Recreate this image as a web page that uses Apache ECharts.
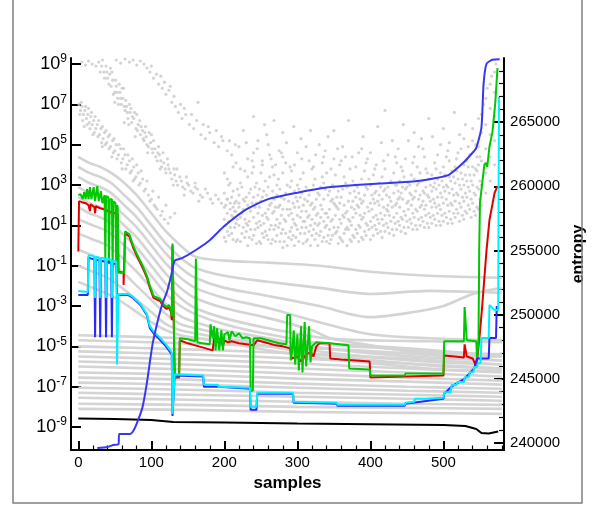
<!DOCTYPE html>
<html><head><meta charset="utf-8">
<script src="https://cdn.jsdelivr.net/npm/echarts@6/dist/echarts.min.js"></script>
<style>html,body{margin:0;padding:0;background:#fff}#c{width:595px;height:506px}</style>
</head><body><div id="c"></div>
<script>
// ---- data (x = sample, left-axis values are log10 exponents) ----
const xTicks = [0,100,200,300,400,500];
const xMinor = [20,40,60,80,120,140,160,180,220,240,260,280,320,340,360,380,420,440,460,480,520,540,560,580];
const yLogTicks = [-9,-7,-5,-3,-1,1,3,5,7,9];
const entTicks = [240000,245000,250000,255000,260000,265000];
const entMinor = [241000,242000,243000,244000,246000,247000,248000,249000,251000,252000,253000,254000,256000,257000,258000,259000,261000,262000,263000,264000,266000,267000,268000,269000];

const entropy = [[26,239610],[40,239690],[48,239840],[55,239900],[56,240700],[71,240700],[76,241000],[82,241790],[88,242800],[94,244700],[98,246300],[102,247800],[110,249800],[116,251000],[121,251700],[127,253000],[132,254200],[142,254400],[160,255000],[180,255800],[200,256900],[230,258200],[260,259000],[300,259500],[340,259900],[380,260100],[413,260220],[458,260370],[490,260650],[508,260920],[526,261770],[538,262500],[545,263000],[552,264570],[555,268000],[559,269550],[567,269860],[577,269900]];

const blackLog = [[0,-8.58],[50,-8.6],[100,-8.65],[130,-8.75],[200,-8.78],[300,-8.83],[400,-8.86],[500,-8.9],[530,-8.95],[545,-9.1],[552,-9.3],[562,-9.32],[575,-9.22]];

const redLog = [[0,-0.3],[1,2.2],[5,2.15],[10,2.1],[14,2.0],[16,1.7],[17,2.05],[22,1.9],[23,1.6],[24,1.95],[30,1.85],[35,1.8],[38,1.75],[45,1.65],[50,1.6],[54,1.55],[55,-1.3],[62,-1.35],[62,-1.95],[63,-1.95],[64,0.6],[70,0.45],[75,-0.1],[80,-0.5],[88,-1.1],[94,-1.6],[98,-2.1],[103,-2.6],[112,-2.75],[116,-3.0],[121,-3.15],[124,-3.05],[127,-3.3],[128,-3.7],[129,0.0],[131,0.0],[132,-6.55],[138,-6.55],[139,-4.7],[150,-4.85],[160,-4.95],[170,-5.05],[184,-5.2],[186,-4.6],[190,-4.8],[195,-4.6],[198,-5.0],[200,-4.7],[205,-4.8],[210,-4.75],[220,-4.85],[230,-4.9],[240,-4.95],[245,-4.7],[250,-4.75],[260,-4.85],[270,-4.95],[280,-5.0],[290,-5.1],[292,-5.6],[300,-5.5],[305,-5.75],[312,-5.4],[318,-5.3],[322,-5.5],[326,-5.0],[330,-4.85],[344,-4.85],[345,-5.6],[360,-5.65],[380,-5.7],[399,-5.75],[400,-6.55],[447,-6.5],[500,-6.45],[501,-5.45],[515,-5.5],[528,-5.55],[529,-4.9],[531,-4.9],[532,-5.5],[540,-5.6],[545,-6.0],[549,-4.7],[553,-3.05],[559,-0.23],[563,1.26],[570,2.6],[574,2.95]];

const greenLog = [[0,2.5],[3,2.55],[6,2.3],[8,2.65],[10,2.3],[12,2.8],[14,2.3],[16,2.9],[18,2.3],[21,2.9],[23,2.2],[26,2.95],[28,2.2],[31,2.7],[33,2.1],[36,2.5],[37,-0.7],[38,2.45],[41,2.4],[42,-0.9],[43,2.3],[46,2.3],[47,-1.1],[48,2.2],[51,2.1],[52,-1.3],[53,2.0],[54,1.9],[55,-1.35],[63,-1.35],[64,0.7],[70,0.55],[75,0.0],[80,-0.4],[88,-1.0],[94,-1.5],[98,-2.0],[103,-2.5],[112,-2.65],[116,-2.9],[121,-3.05],[124,-2.95],[127,-3.2],[128,-3.5],[129,0.1],[131,0.1],[132,-6.5],[138,-6.5],[139,-4.6],[150,-4.65],[160,-4.75],[161,-0.65],[162,-0.65],[163,-4.8],[170,-4.85],[180,-4.9],[181,-3.9],[183,-3.9],[184,-4.6],[186,-4.0],[188,-5.2],[190,-4.1],[193,-5.2],[196,-4.2],[198,-5.2],[200,-4.4],[205,-4.3],[207,-4.7],[210,-4.25],[215,-4.5],[220,-4.35],[225,-4.6],[230,-4.55],[235,-4.6],[236,-7.2],[239,-7.2],[240,-4.6],[250,-4.6],[260,-4.7],[275,-4.85],[285,-4.9],[286,-3.45],[290,-3.45],[291,-5.7],[293,-5.2],[295,-4.2],[297,-5.9],[300,-4.4],[302,-6.2],[305,-4.0],[307,-6.3],[310,-3.8],[312,-6.0],[316,-4.0],[318,-5.8],[320,-5.0],[326,-4.8],[344,-4.85],[370,-4.95],[371,-6.1],[399,-6.15],[400,-6.45],[447,-6.45],[448,-6.35],[500,-6.35],[501,-4.75],[528,-4.75],[529,-3.05],[531,-3.05],[532,-4.7],[545,-4.75],[546,-5.6],[547,-5.6],[548,-4.8],[549,-0.2],[550,2.1],[552,2.1],[556,4.0],[558,4.1],[560,3.9],[563,4.9],[567,5.6],[571,7.06],[574,8.8]];

const cyanLog = [[0,-2.25],[13,-2.3],[14,-0.5],[20,-0.5],[22,-0.6],[23,-2.6],[24,-0.55],[29,-0.6],[30,-2.6],[31,-0.6],[37,-0.65],[38,-2.6],[39,-0.65],[45,-0.7],[46,-2.6],[47,-0.75],[52,-0.8],[53,-5.9],[54,-5.9],[55,-2.4],[68,-2.4],[75,-2.55],[85,-2.9],[94,-3.4],[98,-4.0],[104,-4.3],[110,-4.5],[120,-4.9],[128,-5.3],[129,-8.35],[131,-8.35],[132,-6.4],[171,-6.45],[172,-6.9],[191,-6.9],[192,-7.0],[235,-7.05],[236,-8.0],[244,-8.0],[245,-7.3],[294,-7.3],[295,-7.75],[354,-7.8],[355,-7.9],[447,-7.9],[448,-7.8],[460,-7.75],[461,-7.6],[474,-7.6],[475,-7.55],[500,-7.55],[501,-7.27],[510,-7.27],[511,-6.92],[518,-6.92],[519,-6.77],[528,-6.77],[529,-6.53],[535,-6.53],[536,-6.28],[541,-6.28],[542,-6.03],[546,-6.03],[547,-5.83],[551,-5.83],[552,-4.59],[562,-4.59],[563,-2.95],[570,-3.2],[575,-3.2],[576,7.36]];

const blueLog = [[0,-2.45],[13,-2.45],[14,-0.6],[22,-0.7],[23,-4.55],[24,-0.7],[29,-0.75],[30,-4.55],[31,-0.75],[37,-0.8],[38,-4.55],[39,-0.8],[45,-0.85],[46,-4.55],[47,-0.9],[52,-0.9],[53,-2.45],[68,-2.45],[75,-2.6],[85,-2.95],[94,-3.45],[98,-4.1],[104,-4.4],[110,-4.6],[120,-5.0],[128,-5.4],[129,-8.45],[131,-8.45],[132,-6.45],[171,-6.5],[172,-7.0],[191,-7.0],[192,-7.05],[235,-7.1],[236,-8.15],[244,-8.15],[245,-7.35],[294,-7.35],[295,-7.8],[354,-7.85],[355,-7.95],[447,-7.95],[448,-7.85],[500,-7.6],[501,-7.35],[511,-7.0],[529,-6.6],[542,-6.1],[546,-5.6],[562,-5.6],[563,-4.59],[572,-4.59],[573,-3.0]];

const grayLines = [
 [[0,4.4],[15,4.1],[30,3.9],[45,3.6],[60,3.2],[80,2.5],[100,1.6],[120,0.7],[140,0.0],[160,-0.55],[200,-0.75],[260,-0.85],[330,-1.0],[400,-1.3],[480,-1.5],[580,-1.6]],
 [[0,3.9],[15,3.6],[30,3.4],[45,3.1],[60,2.6],[80,1.9],[100,1.0],[120,0.1],[140,-0.6],[160,-1.1],[200,-1.5],[260,-1.8],[330,-2.1],[400,-2.4],[480,-2.25],[540,-2.3],[580,-2.35]],
 [[0,3.4],[15,3.1],[30,2.9],[45,2.6],[60,2.1],[80,1.4],[100,0.5],[120,-0.4],[140,-1.1],[160,-1.6],[200,-2.1],[260,-2.5],[330,-3.0],[400,-3.55],[460,-3.3],[500,-3.0],[540,-2.4],[580,-2.1]],
 [[0,2.9],[15,2.6],[30,2.4],[45,2.1],[60,1.6],[80,0.9],[100,0.0],[120,-0.9],[140,-1.6],[160,-2.1],[200,-2.6],[260,-3.1],[330,-3.8],[400,-4.4],[480,-4.6],[580,-4.7]],
 [[0,2.4],[15,2.1],[30,1.9],[45,1.6],[60,1.1],[80,0.4],[100,-0.5],[120,-1.4],[140,-2.1],[160,-2.6],[200,-3.1],[260,-3.6],[320,-4.2],[345,-4.6],[400,-4.95],[460,-5.3],[520,-5.45],[580,-5.5]],
 [[0,1.9],[15,1.6],[30,1.4],[45,1.1],[60,0.6],[80,-0.1],[100,-1.0],[120,-1.9],[140,-2.6],[160,-3.1],[200,-3.6],[260,-4.1],[340,-4.6],[400,-4.7],[480,-4.75],[580,-4.8]],
 [[0,1.3],[20,1.0],[40,0.7],[60,0.1],[80,-0.6],[100,-1.5],[120,-2.4],[140,-3.0],[160,-3.4],[200,-3.9],[260,-4.4],[340,-4.9],[420,-5.1],[500,-5.3],[580,-5.4]],
 [[0,0.6],[20,0.3],[40,0.0],[60,-0.6],[80,-1.3],[100,-2.1],[120,-2.9],[140,-3.5],[160,-3.8],[200,-4.2],[260,-4.6],[340,-5.1],[420,-5.4],[500,-5.6],[580,-5.7]],
 [[0,-0.2],[20,-0.5],[40,-0.8],[60,-1.3],[80,-2.0],[100,-2.7],[120,-3.4],[140,-3.9],[160,-4.1],[200,-4.4],[260,-4.8],[340,-5.3],[420,-5.6],[500,-5.8],[580,-5.9]],
 [[0,-1.0],[20,-1.3],[40,-1.6],[60,-2.1],[80,-2.7],[100,-3.3],[120,-3.9],[140,-4.2],[160,-4.35],[200,-4.6],[260,-5.0],[340,-5.45],[420,-5.75],[500,-6.0],[580,-6.1]],
 [[0,-1.8],[20,-2.1],[40,-2.4],[60,-2.8],[80,-3.3],[100,-3.8],[120,-4.2],[140,-4.45],[200,-4.8],[260,-5.2],[340,-5.6],[420,-5.9],[500,-6.15],[580,-6.2]],
 [[0,-4.45],[150,-4.6],[300,-4.8],[450,-5.1],[580,-5.5]],
 [[0,-4.7],[150,-4.85],[300,-5.05],[450,-5.35],[580,-5.7]],
 [[0,-5.0],[150,-5.15],[300,-5.35],[450,-5.6],[580,-5.9]],
 [[0,-5.25],[150,-5.4],[300,-5.6],[450,-5.85],[580,-6.1]],
 [[0,-5.5],[150,-5.65],[300,-5.85],[450,-6.1],[580,-6.3]],
 [[0,-5.75],[150,-5.9],[300,-6.1],[450,-6.3],[580,-6.5]],
 [[0,-6.0],[150,-6.15],[300,-6.35],[450,-6.55],[580,-6.7]],
 [[0,-6.3],[150,-6.4],[300,-6.6],[450,-6.75],[580,-6.9]],
 [[0,-6.55],[150,-6.65],[300,-6.85],[450,-7.0],[580,-7.1]],
 [[0,-6.8],[150,-6.9],[300,-7.05],[450,-7.2],[580,-7.3]],
 [[0,-7.05],[150,-7.15],[300,-7.3],[450,-7.4],[580,-7.5]],
 [[0,-7.3],[150,-7.4],[300,-7.5],[450,-7.6],[580,-7.7]],
 [[0,-7.55],[150,-7.65],[300,-7.75],[450,-7.85],[580,-7.9]],
 [[0,-7.85],[150,-7.9],[300,-8.0],[450,-8.05],[580,-8.1]],
 [[0,-8.1],[150,-8.15],[300,-8.25],[450,-8.3],[580,-8.35]]
];

const dotsLog = [
 // left band
 [1,7.0],[3,6.7],[5,6.9],[7,6.5],[9,6.7],[11,6.3],[13,6.5],[15,6.1],[17,6.4],[19,6.0],[21,6.2],[24,5.8],[26,6.0],[29,5.5],[31,5.8],[34,5.3],[36,5.6],[39,5.1],[41,5.4],[44,4.9],[47,5.2],[50,4.7],[52,5.0],[55,4.5],[58,4.8],[61,4.3],[64,4.5],[67,4.0],[70,4.2],[73,3.7],[76,3.9],[79,3.4],[82,3.6],[85,3.1],[88,3.3],[92,2.8],[96,2.5],[100,2.3],[104,2.0],[108,1.8],[113,1.5],[118,1.3],[123,1.1],[8,5.9],[20,5.5],[33,4.9],[46,4.4],[60,3.8],[75,3.2],
 [2,6.5],[4,7.1],[6,6.2],[10,6.9],[12,6.0],[14,6.8],[16,5.8],[18,6.6],[22,5.6],[23,6.4],[27,5.4],[28,6.2],[32,5.1],[33,5.9],[37,5.0],[38,5.7],[42,4.8],[43,5.5],[48,4.6],[49,5.3],[53,4.3],[56,5.0],[59,4.1],[62,4.8],[65,3.8],[68,4.5],[71,3.6],[74,4.3],[77,3.3],[80,4.0],[83,3.0],[86,3.7],[90,2.7],[94,3.2],[98,2.2],[102,2.7],[106,1.9],[110,2.4],[115,1.7],[120,2.0],[126,1.4],[132,1.6],
 // upper band
 [28,9.1],[32,8.9],[35,8.6],[38,8.9],[40,8.3],[43,8.5],[45,7.9],[47,8.2],[50,7.6],[52,7.9],[54,7.3],[57,7.6],[59,7.0],[61,7.3],[64,6.7],[66,6.9],[68,6.3],[71,6.6],[73,6.1],[76,6.3],[79,5.8],[82,6.0],[85,5.5],[88,5.7],[90,5.2],[93,5.4],[96,4.9],[99,5.1],[102,4.6],[105,4.8],[108,4.2],[111,4.5],[114,3.9],[117,4.1],[120,3.6],[124,3.8],[128,3.3],[132,3.5],[136,3.0],[141,3.2],[146,2.8],[151,3.0],[157,2.6],[163,2.8],[170,2.4],[177,2.6],[184,2.1],[192,2.3],[200,1.9],[208,2.1],[215,1.7],
 [44,8.8],[56,8.0],[62,7.8],[70,7.0],[80,6.5],[92,5.9],[100,5.5],[110,4.9],[122,4.3],[135,3.8],[148,3.4],[160,3.1],[50,7.1],[63,6.1],[78,5.4],[95,4.6],[112,3.8],[130,3.0],[145,2.5],[165,2.2],
 [30,8.6],[33,9.2],[36,8.3],[39,8.6],[42,8.0],[46,8.6],[48,7.5],[51,8.2],[53,7.6],[55,7.0],[58,7.3],[60,7.8],[63,6.9],[65,7.2],[67,6.6],[69,6.0],[72,6.8],[74,6.4],[77,6.6],[81,5.7],[84,6.2],[86,5.9],[89,5.3],[91,5.6],[94,5.0],[97,5.6],[101,4.8],[103,5.2],[106,4.4],[109,4.6],[113,4.2],[116,4.6],[119,3.8],[123,4.0],[126,3.6],[131,3.8],[134,3.2],[139,3.4],[143,2.9],[149,3.1],[154,2.7],[160,2.9],[167,2.5],[174,2.8],[181,2.3],[188,2.5],[196,2.1],[204,2.3],[212,1.9],[220,2.1],
 // sparse upper right
 [5,9.1],[10,8.95],[14,9.15],[19,9.0],[24,8.9],[52,9.2],[58,9.05],[64,9.25],[70,9.1],[75,9.2],[80,8.95],[85,9.15],[90,9.0],[94,8.8],[98,8.6],[103,8.3],[107,8.5],[110,8.0],[115,7.8],[120,7.5],[124,7.7],[128,7.1],[133,6.9],[137,6.6],[142,6.3],[147,6.5],[152,6.0],[158,5.8],[164,7.1],[168,5.5],[174,5.3],[180,5.6],[186,5.1],[192,4.9],[198,5.2],[204,4.7],[210,4.5],[220,4.9],[226,5.7],[232,4.3],[240,4.6],[246,5.2],[252,4.2],[258,5.5],[262,4.5],[270,4.0],[280,4.4],[290,3.9],
 [240,6.4],[255,6.0],[268,6.2],[280,5.6],[295,5.9],[305,5.3],[318,5.7],[330,5.0],[342,5.4],[355,4.8],
 [100,8.9],[113,8.4],[118,8.1],[126,7.9],[131,7.4],[140,7.0],[145,6.8],[155,6.5],[162,6.2],[171,6.0],[178,5.9],[189,5.7],[196,5.4],[207,5.2],[215,5.0],[230,5.1],[245,4.8],[260,5.0],[275,4.7],[285,5.1],[300,4.6],[312,4.9],[325,4.5],[338,4.7],[350,4.3],[362,4.9],[375,4.4],[388,4.8],[400,4.6],[415,5.1],[438,4.8],[452,5.2],[466,4.9],[485,5.4],[508,5.1],[522,5.5],[540,5.8],[548,6.3],[555,7.0],[560,7.8],[566,8.4],[572,9.0],
 [222,3.8],[238,4.2],[250,3.6],[266,3.9],[278,4.6],[292,3.7],[306,4.3],[322,3.9],[334,4.1],[346,3.8],[358,4.0],[366,4.4],[380,3.9],[394,4.1],[406,3.8],[418,4.2],[434,4.4],[442,3.9],[458,4.1],[474,4.4],[490,3.8],[506,4.7],[518,4.3],[534,4.9],[546,4.4],
 // main cloud
 [200,0.4],[200,1.3],[200,2.6],[200,3.6],[208,0.9],[208,1.8],[208,3.1],[216,0.2],[216,1.1],[216,2.2],[216,4.1],[224,0.6],[224,1.6],[224,2.9],
 [232,0.0],[232,1.0],[232,2.0],[232,3.4],[240,0.5],[240,1.4],[240,2.4],[240,3.9],[248,0.2],[248,1.2],[248,1.9],[248,2.8],[256,0.7],[256,1.6],[256,3.2],
 [264,0.1],[264,1.0],[264,2.1],[264,4.3],[272,0.5],[272,1.3],[272,2.5],[272,3.0],[280,-0.1],[280,0.8],[280,1.8],[280,3.6],[288,0.4],[288,1.5],[288,2.2],
 [296,0.0],[296,1.1],[296,1.9],[296,2.7],[296,4.0],[304,0.6],[304,1.4],[304,2.4],[304,3.3],[312,0.2],[312,0.9],[312,1.7],[312,2.9],[320,0.5],[320,1.3],[320,2.1],[320,3.8],
 [328,0.0],[328,1.0],[328,1.6],[328,2.6],[336,0.4],[336,1.2],[336,2.3],[336,3.1],[336,4.4],[344,0.1],[344,0.8],[344,1.8],[344,2.7],[352,0.6],[352,1.5],[352,2.0],[352,3.5],
 [360,0.3],[360,1.1],[360,2.4],[360,4.2],[368,0.0],[368,0.9],[368,1.7],[368,2.9],[376,0.5],[376,1.4],[376,2.2],[376,3.2],[384,0.2],[384,1.0],[384,1.9],[384,2.6],[384,4.6],
 [392,0.7],[392,1.6],[392,2.5],[392,3.7],[400,0.3],[400,1.2],[400,2.1],[400,3.0],[408,0.8],[408,1.5],[408,2.7],[408,4.0],[416,0.4],[416,1.3],[416,2.3],[416,3.4],
 [424,0.9],[424,1.7],[424,2.0],[424,2.9],[424,4.5],[432,0.5],[432,1.4],[432,2.6],[432,3.6],[440,1.0],[440,1.9],[440,2.4],[440,3.2],[448,0.6],[448,1.5],[448,2.8],[448,4.3],
 [456,1.1],[456,2.0],[456,2.5],[456,3.5],[464,0.8],[464,1.7],[464,3.0],[464,3.9],[472,1.2],[472,2.2],[472,2.7],[472,4.8],[480,0.9],[480,1.6],[480,2.4],[480,3.3],
 [488,1.3],[488,2.1],[488,3.1],[488,4.1],[496,1.0],[496,1.8],[496,2.6],[496,3.6],[496,5.0],[504,1.4],[504,2.3],[504,3.0],[504,4.4],[512,1.1],[512,2.0],[512,2.8],[512,3.7],
 [520,1.6],[520,2.5],[520,3.3],[520,4.6],[528,1.3],[528,2.2],[528,3.0],[528,4.0],[528,5.3],[536,1.8],[536,2.7],[536,3.5],[536,4.5],[544,1.5],[544,2.5],[544,3.8],[544,5.0],
 [552,2.0],[552,3.0],[552,4.2],[552,5.6],[552,6.5],[558,2.6],[558,3.6],[558,4.8],[558,6.0],[558,7.3],[564,3.2],[564,4.4],[564,5.5],[564,6.8],[564,8.0],[570,4.0],[570,5.2],[570,6.4],[570,7.6],[570,8.6],
 [390,5.4],[410,5.9],[430,5.2],[445,6.0],[460,5.6],[480,6.3],[500,5.8],[515,6.6],[530,6.0],[420,6.7],[470,5.3],[350,5.7],[370,6.2],
 [204,0.7],[204,1.6],[204,2.3],[204,3.3],[212,0.3],[212,1.4],[212,2.7],[212,3.9],[220,1.0],[220,1.9],[220,2.5],[228,0.4],[228,1.3],[228,2.2],[228,3.7],
 [236,0.8],[236,1.7],[236,2.8],[244,0.1],[244,1.1],[244,2.1],[244,3.1],[252,0.6],[252,1.5],[252,2.4],[252,4.0],[260,0.3],[260,1.3],[260,1.8],[260,2.9],
 [268,0.8],[268,1.7],[268,2.3],[268,3.5],[276,0.2],[276,1.1],[276,2.0],[276,2.8],[284,0.6],[284,1.2],[284,2.6],[284,4.1],[292,0.3],[292,0.9],[292,1.6],[292,3.2],
 [300,0.8],[300,1.5],[300,2.2],[300,3.0],[308,0.1],[308,1.2],[308,2.0],[308,3.6],[316,0.7],[316,1.5],[316,2.5],[316,4.2],[324,0.3],[324,1.1],[324,1.9],[324,3.3],
 [332,0.7],[332,1.4],[332,2.0],[332,2.9],[340,0.2],[340,1.0],[340,1.6],[340,3.6],[348,0.5],[348,1.3],[348,2.3],[348,3.0],[356,0.1],[356,0.9],[356,1.8],[356,2.7],
 [364,0.6],[364,1.4],[364,2.0],[364,3.4],[372,0.3],[372,1.2],[372,2.6],[372,3.8],[380,0.8],[380,1.6],[380,2.4],[380,3.0],[388,0.4],[388,1.3],[388,2.1],[388,3.3],
 [396,1.0],[396,1.9],[396,2.8],[396,4.3],[404,0.5],[404,1.4],[404,2.3],[404,3.5],[412,1.1],[412,2.0],[412,2.5],[412,3.1],[420,0.7],[420,1.5],[420,2.8],[420,3.8],
 [428,1.2],[428,2.2],[428,3.2],[436,0.8],[436,1.6],[436,2.1],[436,3.0],[436,4.1],[444,1.3],[444,2.3],[444,2.9],[444,3.7],[452,0.9],[452,1.8],[452,2.2],[452,3.1],
 [460,1.4],[460,2.4],[460,3.3],[460,4.4],[468,1.0],[468,1.9],[468,2.5],[468,3.6],[476,1.5],[476,2.0],[476,2.9],[476,3.8],[484,1.1],[484,1.9],[484,2.7],[484,3.5],
 [492,1.6],[492,2.4],[492,3.3],[492,4.5],[500,1.2],[500,2.1],[500,2.9],[500,3.9],[508,1.7],[508,2.6],[508,3.4],[508,4.2],[516,1.4],[516,2.2],[516,3.1],[516,3.9],
 [524,1.9],[524,2.8],[524,3.6],[524,4.8],[532,1.6],[532,2.4],[532,3.2],[532,4.2],[540,2.1],[540,3.0],[540,3.9],[540,5.2],[548,1.8],[548,2.8],[548,4.0],[548,4.9]
];

// extra cloud columns: [sample, [log10 values]]
const cloudColsA = [[202,[0.2,1.0,2.0]],[210,[0.6,1.5,2.4]],[218,[0.3,1.3,2.8]],[226,[0.9,1.8,2.3]],[234,[0.4,1.2,2.6]],[242,[0.8,1.9,2.9]],[250,[0.1,1.0,2.2]],[258,[0.5,1.4,2.5]],[266,[0.3,1.6,2.7]],[274,[0.9,1.9,3.3]],[282,[0.2,1.3,2.3]],[290,[0.7,1.8,2.9]],[298,[0.4,1.0,2.4]],[306,[0.9,1.7,2.6]],[314,[0.3,1.4,2.2]],[322,[0.8,1.8,3.0]],[330,[0.5,1.1,2.5]],[338,[0.9,1.6,2.8]],[346,[0.3,1.2,2.2]],[354,[0.7,1.9,2.4]],[362,[0.2,1.5,2.8]],[370,[0.8,1.3,2.2]],[378,[0.4,1.8,2.7]],[386,[0.9,1.5,2.3]],[394,[0.5,1.1,2.9]],[402,[0.9,1.8,2.5]],[410,[0.6,1.3,2.2]],[418,[1.0,1.9,2.7]],[426,[0.6,1.5,2.4]],[434,[1.1,2.0,3.0]],[442,[0.7,1.4,2.6]],[450,[1.2,2.1,2.9]],[458,[0.8,1.6,2.3]],[466,[1.3,2.3,3.1]],[474,[0.9,1.8,2.6]],[482,[1.4,2.2,3.0]],[490,[1.0,1.9,2.8]],[498,[1.5,2.4,3.2]],[506,[1.1,2.0,2.9]],[514,[1.6,2.5,3.4]],[522,[1.2,2.1,3.0]],[530,[1.7,2.6,3.5]],[538,[1.4,2.3,3.2]],[546,[1.9,2.9,3.7]]];
const cloudColsB = [[206,[0.5,1.2,3.0]],[214,[0.9,1.7,2.1]],[222,[0.2,1.4,3.1]],[230,[0.7,1.1,2.4]],[238,[0.3,2.1,3.6]],[246,[0.9,1.6,2.5]],[254,[0.4,1.1,2.7]],[262,[0.8,2.0,3.4]],[270,[0.2,1.0,1.9]],[278,[0.6,1.5,2.4]],[286,[0.0,1.8,3.0]],[294,[0.5,1.3,2.1]],[302,[0.2,1.9,2.8]],[310,[0.6,1.2,2.3]],[318,[0.0,1.0,2.0]],[326,[0.6,1.5,2.3]],[334,[0.2,1.8,3.4]],[342,[0.5,1.4,2.5]],[350,[0.9,2.1,2.9]],[358,[0.4,1.3,2.1]],[366,[0.8,1.6,3.1]],[374,[0.2,1.0,1.9]],[382,[0.6,2.0,2.9]],[390,[0.3,1.4,2.2]],[398,[0.8,1.7,3.3]],[406,[1.0,2.1,2.6]],[414,[0.7,1.6,2.9]],[422,[1.1,1.8,2.5]],[430,[0.8,1.9,3.1]],[438,[1.2,2.3,2.7]],[446,[0.9,1.7,3.4]],[454,[1.3,2.6,3.0]],[462,[1.0,1.8,2.7]],[470,[1.4,2.0,3.2]],[478,[1.1,2.5,3.6]],[486,[1.5,2.3,2.9]],[494,[1.2,2.0,3.0]],[502,[1.6,2.7,3.5]],[510,[1.3,2.1,3.2]],[518,[1.8,2.6,3.7]],[526,[1.5,2.4,3.3]],[534,[2.0,2.9,3.9]],[542,[1.7,2.6,3.5]],[550,[2.3,3.2,4.4]]];

// ---- chart ----
const FONT = 'Liberation Sans, Arial, Helvetica, sans-serif';
const allDots = dotsLog.slice();
cloudColsA.concat(cloudColsB).forEach(([s, ls]) => ls.forEach(l => allDots.push([s, l])));

const series = [];
grayLines.forEach(g => series.push({type:'line', data:g, smooth:0.3, showSymbol:false, silent:true,
  lineStyle:{color:'#d4d4d4', width:2.6}, z:1}));
series.push({type:'scatter', data:allDots, symbolSize:3.2, silent:true, itemStyle:{color:'#c9c9c9'}, z:1});
series.push({type:'line', data:blackLog, showSymbol:false, lineStyle:{color:'#000', width:2}, z:3});
series.push({type:'line', data:redLog, showSymbol:false, lineStyle:{color:'#e00000', width:2}, z:4});
series.push({type:'line', data:greenLog, showSymbol:false, lineStyle:{color:'#00c800', width:2}, z:5});
series.push({type:'line', data:blueLog, showSymbol:false, lineStyle:{color:'#2a2aff', width:2}, z:6});
series.push({type:'line', data:cyanLog, showSymbol:false, lineStyle:{color:'#00f0ff', width:2}, z:7});
series.push({type:'line', data:entropy, yAxisIndex:1, showSymbol:false, smooth:0.2, lineStyle:{color:'#3838f0', width:2}, z:8});

const chart = echarts.init(document.getElementById('c'), null, {renderer:'canvas'});
chart.setOption({
  animation:false,
  backgroundColor:'#fff',
  grid:{left:71, right:90, top:58, bottom:56},
  xAxis:[{
    type:'value', min:-10, max:583, name:'samples', nameLocation:'middle', nameGap:22,
    nameTextStyle:{fontFamily:FONT, fontWeight:'bold', fontSize:17, color:'#000'},
    axisLine:{onZero:false, lineStyle:{color:'#000', width:2}},
    axisTick:{inside:true, length:9, lineStyle:{color:'#000', width:2}, customValues:xTicks},
    axisLabel:{customValues:xTicks, fontFamily:FONT, fontSize:15, color:'#000', margin:5},
    splitLine:{show:false}
  },{
    type:'value', min:-10, max:583, position:'bottom', offset:0,
    axisLine:{show:false, onZero:false},
    axisTick:{inside:true, length:4.5, lineStyle:{color:'#000', width:1.2}, customValues:xMinor},
    axisLabel:{show:false}, splitLine:{show:false}
  }],
  yAxis:[{
    type:'value', min:-10.14, max:9.3, position:'left',
    axisLine:{onZero:false, lineStyle:{color:'#000', width:2}},
    axisTick:{inside:true, length:10, lineStyle:{color:'#000', width:2}, customValues:yLogTicks},
    axisLabel:{customValues:yLogTicks, margin:4, color:'#000',
      formatter: v => '{b|10}{s|' + v + '}',
      rich:{b:{fontFamily:FONT, fontSize:18, lineHeight:22, color:'#000'},
            s:{fontFamily:FONT, fontSize:12, lineHeight:12, verticalAlign:'top', color:'#000'}}},
    splitLine:{show:false}
  },{
    type:'value', min:239450, max:270000, position:'right', offset:0,
    name:'entropy', nameLocation:'middle', nameGap:48, nameRotate:90,
    nameTextStyle:{fontFamily:FONT, fontWeight:'bold', fontSize:16, color:'#000'},
    axisLine:{onZero:false, lineStyle:{color:'#000', width:2}},
    axisTick:{inside:true, length:10, lineStyle:{color:'#000', width:2}, customValues:entTicks},
    axisLabel:{customValues:entTicks, fontFamily:FONT, fontSize:15, color:'#000', margin:6, formatter: v => String(v)},
    splitLine:{show:false}
  },{
    type:'value', min:239450, max:270000, position:'right', offset:0,
    axisLine:{show:false, onZero:false},
    axisTick:{inside:true, length:5, lineStyle:{color:'#000', width:1.2}, customValues:entMinor},
    axisLabel:{show:false}, splitLine:{show:false}
  }],
  graphic:[{type:'rect', shape:{x:13, y:-5, width:569, height:508}, style:{fill:'none', stroke:'#808080', lineWidth:1.5}, silent:true, z:100}],
  series: series
});
</script></body></html>
